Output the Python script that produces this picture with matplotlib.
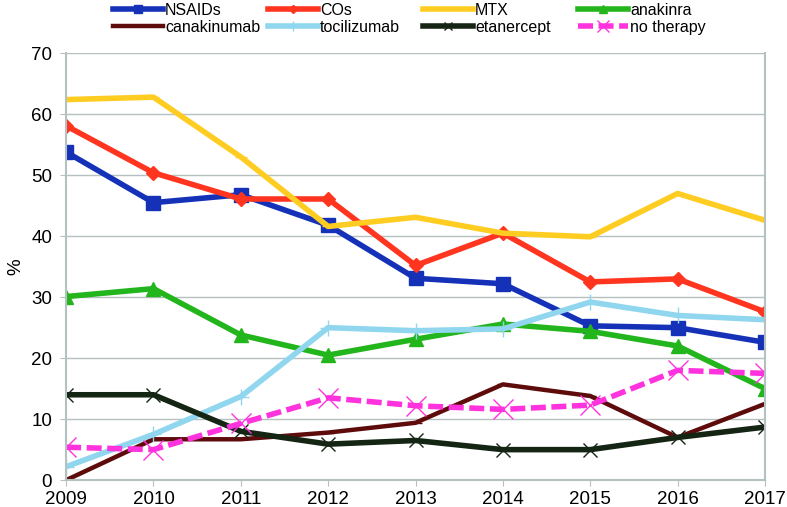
import matplotlib.pyplot as plt

plt.rcParams['font.family'] = ['Liberation Sans', 'DejaVu Sans']

years = [2009, 2010, 2011, 2012, 2013, 2014, 2015, 2016, 2017]

nsaids = [53.8, 45.5, 46.8, 41.8, 33.1, 32.2, 25.3, 25.0, 22.6]
cos = [58.1, 50.4, 46.1, 46.1, 35.2, 40.5, 32.5, 33.0, 27.6]
mtx = [62.4, 62.8, 53.0, 41.6, 43.1, 40.5, 39.9, 47.0, 42.6]
anakinra = [30.1, 31.4, 23.8, 20.5, 23.1, 25.6, 24.4, 22.0, 15.0]
canakinumab = [0.0, 6.7, 6.7, 7.8, 9.4, 15.7, 13.8, 7.0, 12.5]
tocilizumab = [2.2, 7.5, 13.7, 25.0, 24.5, 24.8, 29.2, 27.0, 26.3]
etanercept = [14.0, 14.0, 8.0, 5.9, 6.5, 5.0, 5.0, 7.0, 8.7]
no_therapy = [5.4, 5.0, 9.3, 13.5, 12.2, 11.6, 12.3, 18.0, 17.5]

W, H = 787, 507
fig = plt.figure(figsize=(W / 100, H / 100), dpi=100)
ax = fig.add_axes([0.084, 0.053, 0.888, 0.842])

lw = 4
h = {}
h['NSAIDs'], = ax.plot(years, nsaids, color='#1531b8', lw=lw, marker='s', ms=9.5)
h['COs'], = ax.plot(years, cos, color='#ff351f', lw=lw, marker='D', ms=7.5)
h['MTX'], = ax.plot(years, mtx, color='#ffcc22', lw=lw, marker='_', ms=8)
h['anakinra'], = ax.plot(years, anakinra, color='#22b51c', lw=lw, marker='^', ms=10)
h['canakinumab'], = ax.plot(years, canakinumab, color='#5e0b0b', lw=3.2, marker='_', ms=8)
h['tocilizumab'], = ax.plot(years, tocilizumab, color='#8fd6ee', lw=lw, marker='+', ms=12, mew=1)
h['etanercept'], = ax.plot(years, etanercept, color='#142514', lw=lw, marker='x', ms=10, mew=1)
h['no therapy'], = ax.plot(years, no_therapy, color='#ff33dd', lw=lw, ls=(0, (2.7, 1.0)),
                           marker='x', ms=15, mew=1)

ax.set_xlim(2009, 2017)
ax.set_ylim(0, 70)
ax.set_yticks(range(0, 71, 10))
ax.set_xticks(years)
ax.set_ylabel('%', fontsize=13.5, labelpad=5)
ax.tick_params(axis='both', labelsize=13.5, length=4, color='#b5c0c0')
ax.tick_params(axis='y', pad=6)
ax.grid(axis='y', color='#b5c0c0', lw=1)
ax.spines['top'].set_visible(False)
for side in ['left', 'right', 'bottom']:
    ax.spines[side].set_color('#b5c0c0')
    ax.spines[side].set_linewidth(1.5)

# Excel style legend: 4 equal columns, filled row by row
columns = [('NSAIDs', 'canakinumab'), ('COs', 'tocilizumab'),
           ('MTX', 'etanercept'), ('anakinra', 'no therapy')]
col_x = [113, 268, 423, 578]
for names, x in zip(columns, col_x):
    leg = fig.legend([h[k] for k in names], names, loc='upper left',
                     bbox_to_anchor=(x / W, 1 - 3 / H), frameon=False, fontsize=11.5,
                     handlelength=3.1, handletextpad=0.15, labelspacing=0.1,
                     borderpad=0, borderaxespad=0, markerscale=0.6)

fig.savefig('out.png', dpi=100)
